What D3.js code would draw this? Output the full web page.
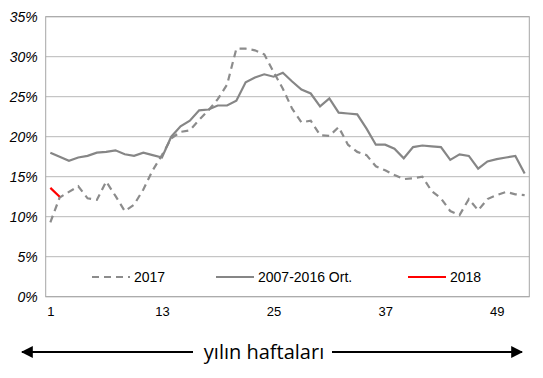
<!DOCTYPE html>
<html>
<head>
<meta charset="utf-8">
<script src="https://cdnjs.cloudflare.com/ajax/libs/d3/7.8.5/d3.min.js"></script>
<style>
  body { margin: 0; background: #fff; }
  svg { display: block; }
</style>
</head>
<body>
<svg id="chart"></svg>
<script>
// week numbers 1..52
var weeks = d3.range(1, 53);
var tickWeeks = [1, 13, 25, 37, 49];
var yTicks = [0, 0.05, 0.10, 0.15, 0.20, 0.25, 0.30, 0.35];

// 2007-2016 average (%)
var avgValues = [18.0, 17.5, 17.0, 17.4, 17.6, 18.0, 18.1, 18.3, 17.8, 17.6,
                 18.0, 17.7, 17.4, 20.0, 21.3, 22.0, 23.3, 23.4, 23.9, 23.9,
                 24.5, 26.8, 27.4, 27.8, 27.5, 28.0, 26.9, 25.9, 25.4, 23.8,
                 24.8, 23.0, 22.9, 22.8, 21.0, 19.0, 19.0, 18.5, 17.3, 18.7,
                 18.9, 18.8, 18.7, 17.1, 17.8, 17.6, 16.0, 16.9, 17.2, 17.4,
                 17.6, 15.4];
// 2017 (%)
var values2017 = [9.3, 12.4, 13.1, 13.8, 12.3, 12.1, 14.4, 12.6, 10.7, 11.5,
                  13.4, 15.8, 17.7, 19.8, 20.6, 20.8, 22.1, 23.3, 24.7, 26.5,
                  31.0, 31.0, 30.8, 30.3, 28.1, 26.0, 23.5, 21.8, 22.0, 20.2,
                  20.1, 21.2, 19.0, 18.1, 17.7, 16.3, 15.8, 15.2, 14.7, 14.8,
                  15.0, 13.2, 12.3, 10.7, 10.2, 12.2, 10.8, 12.2, 12.7, 13.1,
                  12.8, 12.7];
// 2018 (%)
var values2018 = [13.6, 12.5];

var svg = d3.select('#chart').attr('width', 543).attr('height', 378);

var x = d3.scalePoint().domain(weeks).range([45.7, 529.3]).padding(0.5);
var y = d3.scaleLinear().domain([0, 0.35]).range([296.7, 16.7]);

// gridlines
svg.append('g')
    .selectAll('line')
    .data(yTicks)
    .enter().append('line')
    .attr('x1', 45.7).attr('x2', 529.3)
    .attr('y1', function (d) { return y(d); })
    .attr('y2', function (d) { return y(d); })
    .attr('stroke', '#b8b8b8')
    .attr('stroke-width', 1);

// plot border
svg.append('rect')
    .attr('x', 45.7).attr('y', y(0.35))
    .attr('width', 529.3 - 45.7).attr('height', y(0) - y(0.35))
    .attr('fill', 'none')
    .attr('stroke', '#a6a6a6')
    .attr('stroke-width', 1);

// y axis labels
var yAxis = svg.append('g')
    .attr('transform', 'translate(45.7,0)')
    .call(d3.axisLeft(y).tickValues(yTicks).tickSize(0).tickPadding(8)
        .tickFormat(function (d) { return Math.round(d * 100) + '%'; }));
yAxis.select('.domain').remove();
yAxis.selectAll('text')
    .attr('font-family', 'Liberation Sans, Arial, sans-serif')
    .attr('font-size', 14)
    .attr('font-style', 'italic')
    .attr('fill', '#000');

// x axis labels
var xAxis = svg.append('g')
    .attr('transform', 'translate(0,' + y(0) + ')')
    .call(d3.axisBottom(x).tickValues(tickWeeks).tickSize(0).tickPadding(10));
xAxis.select('.domain').remove();
xAxis.selectAll('text')
    .attr('font-family', 'Liberation Sans, Arial, sans-serif')
    .attr('font-size', 13)
    .attr('fill', '#000');

var line = d3.line()
    .x(function (d, i) { return x(weeks[i]); })
    .y(function (d) { return y(d / 100); });

svg.append('path')
    .datum(values2017)
    .attr('d', line)
    .attr('fill', 'none')
    .attr('stroke', '#8c8c8c')
    .attr('stroke-width', 2.2)
    .attr('stroke-dasharray', '7,5');

svg.append('path')
    .datum(avgValues)
    .attr('d', line)
    .attr('fill', 'none')
    .attr('stroke', '#868686')
    .attr('stroke-width', 2.2);

svg.append('path')
    .datum(values2018)
    .attr('d', line)
    .attr('fill', 'none')
    .attr('stroke', '#ff0000')
    .attr('stroke-width', 2.2);

// legend
var legend = [
    { name: '2017', x: 92, color: '#8c8c8c', dash: '7,5' },
    { name: '2007-2016 Ort.', x: 216, color: '#868686', dash: null },
    { name: '2018', x: 408, color: '#ff0000', dash: null }
];
var lg = svg.append('g').selectAll('g').data(legend).enter().append('g');
lg.append('line')
    .attr('x1', function (d) { return d.x; })
    .attr('x2', function (d) { return d.x + 38; })
    .attr('y1', 277).attr('y2', 277)
    .attr('stroke', function (d) { return d.color; })
    .attr('stroke-width', 2.2)
    .attr('stroke-dasharray', function (d) { return d.dash; });
lg.append('text')
    .attr('x', function (d) { return d.x + 42; })
    .attr('y', 282)
    .attr('font-family', 'Liberation Sans, Arial, sans-serif')
    .attr('font-size', 14)
    .text(function (d) { return d.name; });

// bottom arrow with title
svg.append('defs').append('marker')
    .attr('id', 'arrow')
    .attr('viewBox', '0 0 10 10')
    .attr('refX', 9).attr('refY', 5)
    .attr('markerWidth', 6).attr('markerHeight', 6)
    .attr('orient', 'auto-start-reverse')
    .append('path')
    .attr('d', 'M0,0 L10,5 L0,10 Z')
    .attr('fill', '#000');

svg.append('line')
    .attr('x1', 22).attr('x2', 193).attr('y1', 352).attr('y2', 352)
    .attr('stroke', '#000').attr('stroke-width', 2)
    .attr('marker-start', 'url(#arrow)');
svg.append('line')
    .attr('x1', 332).attr('x2', 522).attr('y1', 352).attr('y2', 352)
    .attr('stroke', '#000').attr('stroke-width', 2)
    .attr('marker-end', 'url(#arrow)');
svg.append('text')
    .attr('x', 264).attr('y', 359)
    .attr('text-anchor', 'middle')
    .attr('font-family', 'Open Sans, Noto Sans, sans-serif')
    .attr('font-size', 20)
    .text('yılın haftaları');
</script>
</body>
</html>
